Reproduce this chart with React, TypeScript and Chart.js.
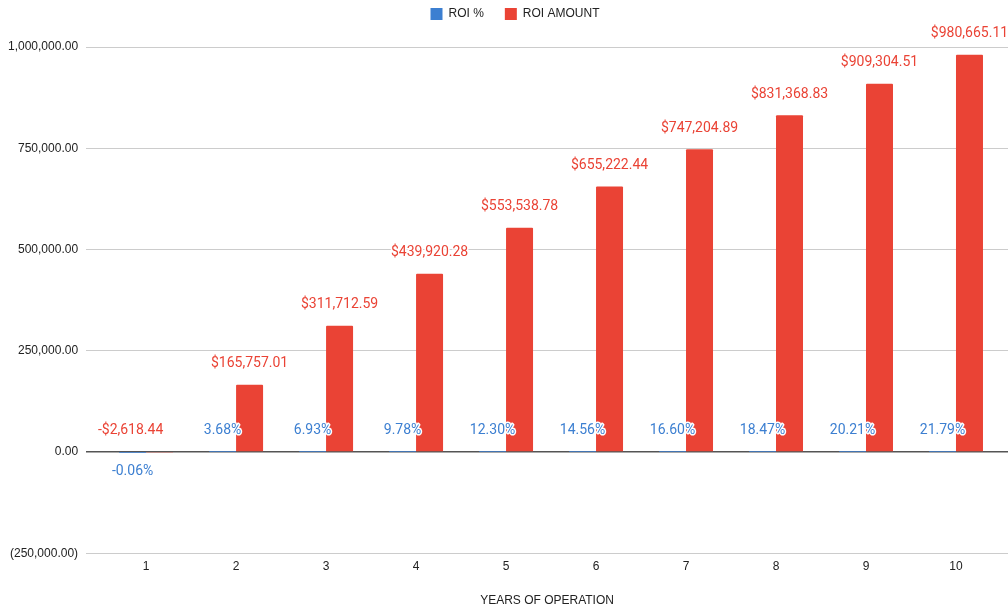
import React, { useEffect, useRef } from "react";
import { Chart, registerables } from "chart.js";

Chart.register(...registerables);

const years = [1, 2, 3, 4, 5, 6, 7, 8, 9, 10];
const roiPct = [-0.06, 3.68, 6.93, 9.78, 12.3, 14.56, 16.6, 18.47, 20.21, 21.79];
const roiAmount = [
  -2618.44, 165757.01, 311712.59, 439920.28, 553538.78, 655222.44, 747204.89,
  831368.83, 909304.51, 980665.11,
];
const yTicks = [-250000, 0, 250000, 500000, 750000, 1000000];

const BLUE = "#3c7fd1";
const RED = "#ea4335";

const fmtAxis = (v: number) => {
  const s = Math.abs(v).toLocaleString("en-US", {
    minimumFractionDigits: 2,
    maximumFractionDigits: 2,
  });
  return v < 0 ? `(${s})` : s;
};
const fmtMoney = (v: number) => {
  const s = Math.abs(v).toLocaleString("en-US", {
    minimumFractionDigits: 2,
    maximumFractionDigits: 2,
  });
  return (v < 0 ? "-$" : "$") + s;
};

const legendMargin = {
  id: "legendMargin",
  beforeUpdate(chart: any) {
    const lg = chart.legend;
    if (!lg || lg._patched) return;
    lg._patched = true;
    const origFit = lg.fit;
    lg.fit = function () {
      origFit.call(this);
      this.height += 17;
    };
    const origDraw = lg.draw;
    lg.draw = function (...args: any[]) {
      const ctx = this.ctx;
      ctx.save();
      ctx.translate(11, 0);
      origDraw.apply(this, args);
      ctx.restore();
    };
  },
};

const labelPlugin = {
  id: "barLabels",
  afterDatasetsDraw(chart: any) {
    const ctx = chart.ctx;
    const yScale = chart.scales.y;
    const zero = yScale.getPixelForValue(0);
    const m0 = chart.getDatasetMeta(0);
    const m1 = chart.getDatasetMeta(1);
    ctx.save();
    ctx.font = "14px Roboto";
    ctx.textAlign = "center";
    ctx.textBaseline = "middle";
    ctx.lineJoin = "round";
    ctx.lineWidth = 3;
    ctx.strokeStyle = "#ffffff";
    roiPct.forEach((v, i) => {
      const el = m0.data[i];
      const txt = `${v.toFixed(2)}%`;
      const y = v >= 0 ? zero - 21 : zero + 20;
      ctx.fillStyle = BLUE;
      ctx.strokeText(txt, el.x, y);
      ctx.fillText(txt, el.x, y);
    });
    roiAmount.forEach((v, i) => {
      const el = m1.data[i];
      const txt = fmtMoney(v);
      let x = el.x;
      const y = Math.min(el.y, zero) - 21;
      if (v < 0) x = m0.data[i].x - 2;
      ctx.fillStyle = RED;
      ctx.strokeText(txt, x, y);
      ctx.fillText(txt, x, y);
    });
    ctx.restore();
  },
};

export default function App() {
  const ref = useRef<HTMLCanvasElement | null>(null);
  useEffect(() => {
    document.body.style.margin = "0";
    const canvas = ref.current!;
    const chart = new Chart(canvas, {
      type: "bar",
      data: {
        datasets: [
          {
            label: "ROI %",
            data: years.map((x, i) => ({ x, y: roiPct[i] / 100 })),
            backgroundColor: BLUE,
            borderColor: BLUE,
          },
          {
            label: "ROI AMOUNT",
            data: years.map((x, i) => ({ x, y: roiAmount[i] })),
            backgroundColor: RED,
            borderColor: RED,
          },
        ],
      },
      options: {
        animation: false,
        responsive: true,
        maintainAspectRatio: false,
        datasets: {
          bar: { categoryPercentage: 0.6, barPercentage: 1.0, borderRadius: 1 },
        },
        layout: { padding: { top: -13, right: 0, left: 0, bottom: 1 } },
        plugins: {
          tooltip: { enabled: false },
          legend: {
            position: "top",
            labels: {
              boxWidth: 12,
              boxHeight: 12,
              padding: 21,
              color: "#222",
              font: { family: "Arial, 'Liberation Sans'", size: 12 },
            },
          },
        },
        scales: {
          x: {
            type: "linear",
            min: 0.333,
            max: 10.578,
            offset: false,
            grid: { display: false, drawTicks: false },
            border: { display: false },
            ticks: {
              stepSize: 1,
              includeBounds: false,
              color: "#222",
              padding: 6,
              font: { family: "Arial, 'Liberation Sans'", size: 12 },
              callback: (v: any) => String(v),
            },
            title: {
              display: true,
              text: "YEARS OF OPERATION",
              color: "#222",
              padding: { top: 14, bottom: 0 },
              font: { family: "Arial, 'Liberation Sans'", size: 12 },
            },
          },
          y: {
            min: yTicks[0],
            max: yTicks[yTicks.length - 1],
            afterBuildTicks: (scale: any) => {
              scale.ticks = yTicks.map((v) => ({ value: v }));
            },
            grid: {
              color: (c: any) => (c.tick && c.tick.value === 0 ? "#555" : "#cccccc"),
              lineWidth: (c: any) => (c.tick && c.tick.value === 0 ? 1.5 : 1),
              drawTicks: false,
            },
            border: { display: false },
            ticks: {
              color: "#222",
              padding: 8,
              font: { family: "Arial, 'Liberation Sans'", size: 12 },
              callback: (v: any) => fmtAxis(Number(v)),
            },
          },
        },
      },
      plugins: [legendMargin, labelPlugin],
    } as any);
    return () => chart.destroy();
  }, []);
  return (
    <div style={{ position: "relative", width: 1008, height: 609 }}>
      <canvas ref={ref} />
    </div>
  );
}
